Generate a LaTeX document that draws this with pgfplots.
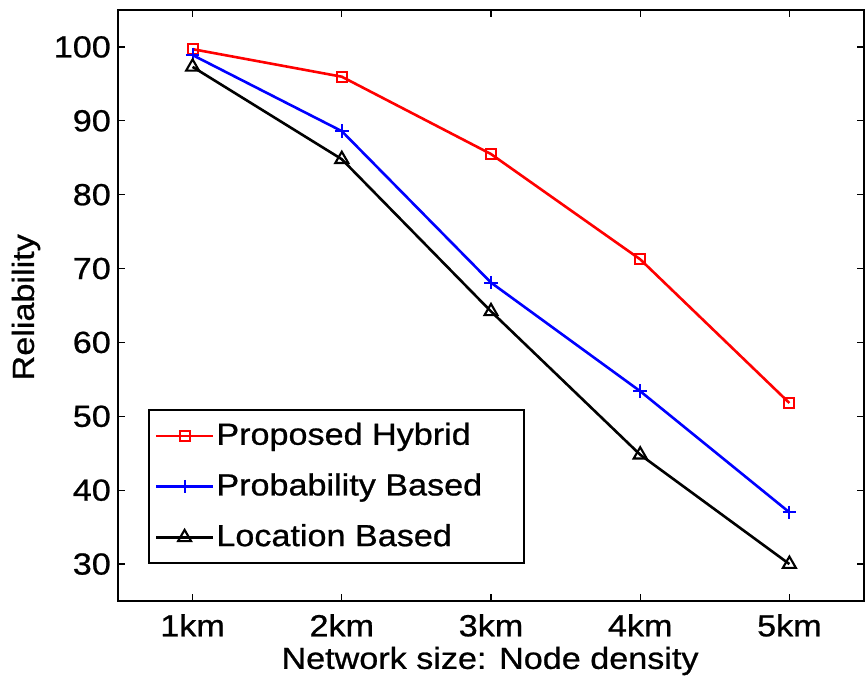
\documentclass[border=0pt]{standalone}
\usepackage{pgfplots}
\pgfplotsset{compat=1.18}
\usepackage{fontspec}
\setmainfont{Liberation Sans}[FakeStretch=1.12, FakeBold=0.8]
\begin{document}
\fontsize{30.5}{36}\selectfont
\begin{tikzpicture}
\begin{axis}[
  at={(0pt,0pt)}, anchor=south west,
  scale only axis,
  width=746pt, height=591pt,
  xmin=0.5, xmax=5.5, ymin=25, ymax=105,
  xtick={1,2,3,4,5},
  xticklabels={1km,2km,3km,4km,5km},
  ytick={30,40,50,60,70,80,90,100},
  tick align=inside,
  tick pos=both,
  major tick length=7pt,
  axis line style={line width=1.6pt},
  every tick/.style={black, line width=1.2pt},
  /pgf/number format/assume math mode=true,
  tick label style={font=\fontsize{30.5}{36}\selectfont},
  xticklabel style={inner sep=0pt, anchor=north, yshift=-13pt},
  yticklabel style={inner sep=0pt, anchor=east, xshift=-7pt},
  xlabel={Network size: Node density},
  ylabel={Reliability},
  label style={font=\fontsize{30.5}{36}\selectfont},
  xlabel style={at={(axis description cs:0.4987,-0.1015)}, anchor=center, inner sep=0pt},
  ylabel style={at={(axis description cs:-0.1233,0.497)}, anchor=center, rotate=0, inner sep=0pt},
  legend style={
    at={(rel axis cs:0.0402,0.0626)}, anchor=south west,
    draw=black, line width=1.6pt,
    font=\fontsize{30.5}{36}\selectfont,
    inner xsep=6pt, inner ysep=10.5pt,
    row sep=20pt,
    cells={anchor=west},
  },
  legend image code/.code={
    \draw[mark repeat=2,mark phase=2,#1] plot coordinates {(0pt,0pt) (28.5pt,0pt) (57pt,0pt)};
  },
  every axis plot/.append style={line width=2.6pt},
]
\addplot[color=red, mark=square, mark size=5pt, mark options={line width=2.1pt, solid}]
  coordinates {(1,99.7) (2,95.97) (3,85.5) (4,71.25) (5,51.8)};
\addlegendentry{Proposed Hybrid}
\addplot[color=blue, mark=+, mark size=6.8pt, mark options={line width=2.1pt, solid}]
  coordinates {(1,98.9) (2,88.6) (3,68.1) (4,53.4) (5,37.0)};
\addlegendentry{Probability Based\hspace*{34pt}}
\addplot[color=black, mark=triangle, mark size=7.5pt, mark options={line width=2.1pt, solid}]
  coordinates {(1,97.3) (2,84.8) (3,64.2) (4,44.8) (5,30.0)};
\addlegendentry{Location Based}
\end{axis}
\pgfresetboundingbox
\path[use as bounding box] (-118pt,-75pt) rectangle (747pt,601pt);
\end{tikzpicture}
\end{document}
